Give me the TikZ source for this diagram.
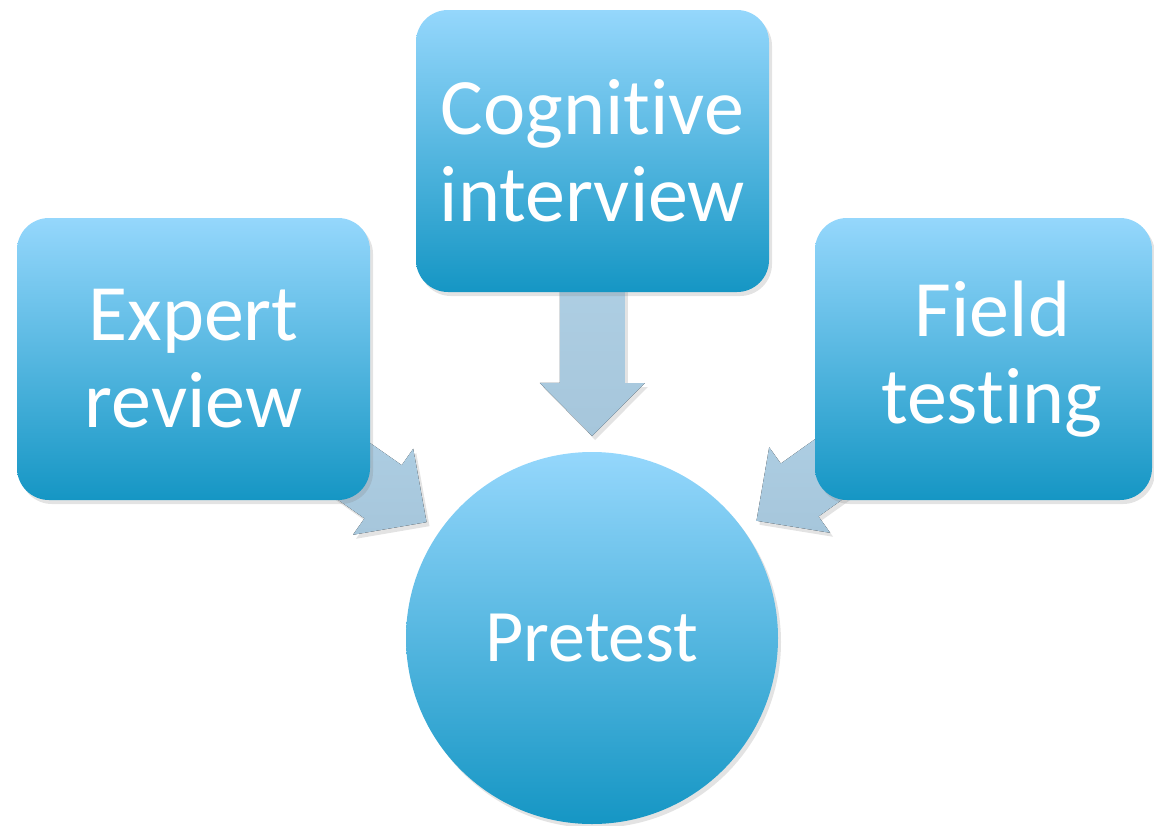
\documentclass[tikz,border=0pt]{standalone}
\usepackage{fontspec}
\setmainfont{Carlito}[Ligatures=CommonOff,RawFeature={-liga;-clig;-dlig}]
\usetikzlibrary{calc,shadows}
\definecolor{topblue}{HTML}{95D7FC}
\definecolor{botblue}{HTML}{1596C4}
\definecolor{arrowtop}{HTML}{B4D5EA}
\definecolor{arrowbot}{HTML}{A6C6DB}
\pgfdeclarelayer{bg}
\pgfsetlayers{bg,main}
\tikzset{
  shade/.style={drop shadow={shadow xshift=3pt,shadow yshift=-4pt,opacity=0.22}},
  box/.style={rectangle, rounded corners=32pt, minimum width=353pt, minimum height=282pt,
    top color=topblue, bottom color=botblue, text=white, align=center, inner sep=0pt,
    font=\fontsize{80}{87}\selectfont, shade},
  hub/.style={circle, minimum size=372pt, inner sep=0pt, top color=topblue, bottom color=botblue,
    text=white, font=\fontsize{74}{87}\selectfont, shade},
  arr/.style={top color=arrowtop, bottom color=arrowbot, shade}
}
\newcommand\blockarrow[2]{%
  \coordinate (T) at ($(pre.center)!202pt!(#1.center)$);
  \coordinate (B) at ($(T)!53pt!(#1.center)$);
  \fill[arr] ($(#1.center)!32.5pt!90:(T)$) -- ($(B)!32.5pt!90:(T)$) -- ($(B)!52.5pt!90:(T)$)
    -- (T) -- ($(B)!52.5pt!-90:(T)$) -- ($(B)!32.5pt!-90:(T)$) -- ($(#1.center)!32.5pt!-90:(T)$) -- cycle;
}
\begin{document}
\begin{tikzpicture}[x=1pt,y=-1pt]
\useasboundingbox (0,0) rectangle (1154,825);
\node[box] (expert) at (193.5,359) {Expert\\review};
\node[box] (cog) at (592.5,151) {Cognit\kern0pt ive\\interview};
\node[box, minimum width=337pt] (field) at (983.5,359) {\hspace*{18pt}Field\\\hspace*{16pt}test\kern0pt ing};
\node[hub] (pre) at (592,638) {Pretest};
\begin{pgfonlayer}{bg}
\blockarrow{expert}{pre}
\blockarrow{cog}{pre}
\blockarrow{field}{pre}
\end{pgfonlayer}
\end{tikzpicture}
\end{document}
